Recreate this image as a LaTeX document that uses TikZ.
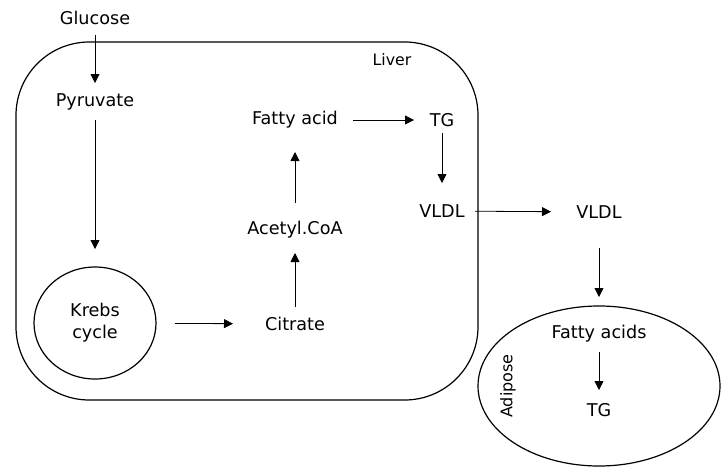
\documentclass[tikz,border=0pt]{standalone}
\usepackage{fontspec}
\setmainfont{DejaVu Sans}
\usetikzlibrary{arrows.meta,shapes.geometric}

\begin{document}
\begin{tikzpicture}[x=0.75pt,y=-0.75pt,font=\fontsize{13.2}{16.5}\selectfont,
 >={Triangle[length=6.75pt,width=6.75pt]},
 lbl/.style={inner sep=0pt},
 arr/.style={->,line width=0.6pt},
 organ/.style={draw,line width=0.9pt,inner sep=0pt}]
\useasboundingbox (0,0) rectangle (721,468);
% liver and adipose outlines
\node[organ,rounded corners=55pt,minimum width=346.5pt,minimum height=268.5pt] (liver) at (247,221) {};
\node[lbl,font=\fontsize{11.8}{12}\selectfont] (liverlbl) at (392,60) {Liver};
\node[organ,ellipse,minimum width=181.5pt,minimum height=120pt] (adipose) at (599,386) {};
\node[lbl,rotate=90,font=\fontsize{12}{12}\selectfont] (adiposelbl) at (508,386) {Adipose};
% metabolites
\node[lbl] (glu) at (95,18) {Glucose};
\node[lbl] (pyr) at (95,102) {Pyruvate};
\node[organ,ellipse,align=center,minimum width=91.5pt,minimum height=84pt] (krebs) at (95,323) {Krebs\\cycle};
\node[lbl] (cit) at (295,324) {Citrate};
\node[lbl] (aco) at (295,230) {Acetyl.CoA};
\node[lbl] (fac) at (295,120) {Fatty acid};
\node[lbl] (tg) at (442,120) {TG};
\node[lbl] (vli) at (442,211) {VLDL};
\node[lbl] (vlo) at (599,212) {VLDL};
\node[lbl] (fas) at (599,334) {Fatty acids};
\node[lbl] (tga) at (599,410) {TG};
% conversions
\draw[arr,shorten <=12.75pt,shorten >=14.25pt] (glu.center)--(pyr.center);
\draw[arr,shorten <=13.5pt,shorten >=55.5pt] (pyr.center)--(krebs.center);
\draw[arr,shorten <=60pt,shorten >=46.5pt] (krebs.center)--(cit.center);
\draw[arr,shorten <=12.75pt,shorten >=17.25pt] (cit.center)--(aco.center);
\draw[arr,shorten <=20.25pt,shorten >=24pt] (aco.center)--(fac.center);
\draw[arr,shorten <=43.5pt,shorten >=21pt] (fac.center)--(tg.center);
\draw[arr,shorten <=9.75pt,shorten >=21pt] (tg.center)--(vli.center);
\draw[arr,shorten <=24.75pt,shorten >=36pt] (vli.center)--(vlo.center);
\draw[arr,shorten <=27pt,shorten >=66.75pt] (vlo.center)--(adipose.center);
\draw[arr,shorten <=13.5pt,shorten >=15pt] (fas.center)--(tga.center);
\end{tikzpicture}
\end{document}
